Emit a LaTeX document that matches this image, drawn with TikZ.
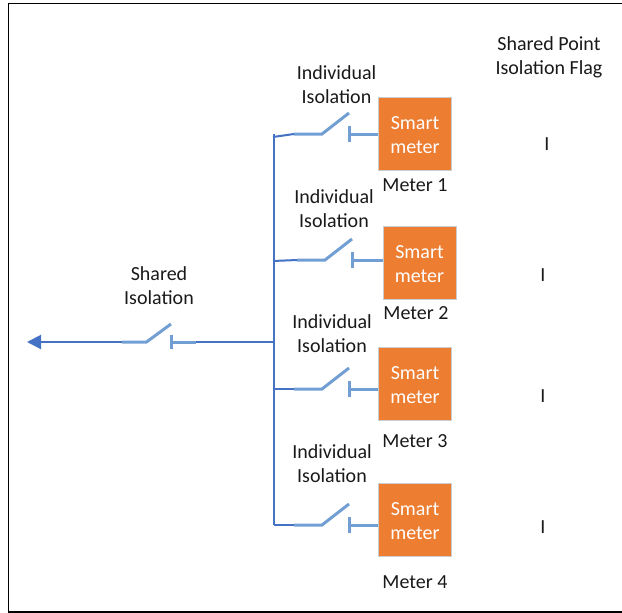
\documentclass[tikz,border=0pt]{standalone}
\usepackage{fontspec}
\setmainfont{Carlito}
\usetikzlibrary{arrows.meta}
\definecolor{busblue}{HTML}{4472C4}
\definecolor{swblue}{HTML}{729FD3}
\definecolor{meterorange}{HTML}{ED7D31}
\definecolor{meteredge}{HTML}{C9CDD2}
\tikzset{
  x=1pt,y=-1pt,
  bus/.style={draw=busblue,line width=2pt},
  swline/.style={draw=swblue,line width=3pt},
  meterbox/.style={draw=meteredge,line width=1pt,fill=meterorange,minimum width=73pt,minimum height=73pt,inner sep=0pt,
    label={[text=white,inner sep=0pt,align=center,font=\fontsize{20}{24}\selectfont,yshift=-1.5pt]center:{Smart\\meter}}},
  lab/.style={inner sep=0pt,align=center,text=black!90,font=\fontsize{20}{24}\selectfont},
}
% #1 name, #2 left x, #3 y, #4 kink dx, #5 tip dx, #6 tip dy, #7 bar half height
\newcommand{\swgate}[7]{%
  \coordinate (#1a) at (#2,#3);
  \coordinate (#1b) at (#2+#4,#3);
  \coordinate (#1c) at (#2+#5,#3-#6);
  \coordinate (#1d) at (#2+#5,#3);
  \draw[swline] (#1a) -- (#1b) -- (#1c);
  \draw[swline] ([yshift=#7pt]#1d) -- ([yshift=-#7pt]#1d);
}
\begin{document}
\begin{tikzpicture}
\useasboundingbox (0,0) rectangle (622,613);
\draw[black,line width=1.1pt] (622,612) -- (8.5,612) -- (8.5,3.5) -- (622,3.5);

\node[meterbox] (m1) at (415,134) {};
\node[meterbox] (m2) at (419.5,263) {};
\node[meterbox] (m3) at (415,384) {};
\node[meterbox] (m4) at (415,520) {};

\node[lab] (i1) at (336.5,84.5) {Individual\\Isolation};
\node[lab] (i2) at (334,209) {Individual\\Isolation};
\node[lab] (i3) at (332,333.5) {Individual\\Isolation};
\node[lab] (i4) at (332,463.5) {Individual\\Isolation};
\node[lab] (sh) at (159,285.5) {Shared\\Isolation};
\node[lab] (fl) at (549,57.5) {Shared Point\\Isolation Flag};

\node[lab] (l1) at (415,185.5) {Meter 1};
\node[lab] (l2) at (416,313.5) {Meter 2};
\node[lab] (l3) at (415,441.5) {Meter 3};
\node[lab] (l4) at (415,582.5) {Meter 4};

\node[lab] (f1) at (547,144.5) {I};
\node[lab] (f2) at (543,275.5) {I};
\node[lab] (f3) at (543,396.5) {I};
\node[lab] (f4) at (543,527.5) {I};

% switches
\swgate{s1}{294}{134}{28}{55}{21}{8}
\swgate{s2}{297}{260}{28}{55}{21}{8}
\swgate{s3}{294}{389}{28}{55}{21}{8}
\swgate{s4}{294}{525}{28}{55}{21}{8}
\swgate{s0}{122}{342}{24.5}{49}{18}{7}

% bus
\coordinate (bt) at (273.5,134);
\coordinate (bb) at (273.5,525);
\coordinate (b0) at (274,342);
\coordinate (tip) at (27,342);
\draw[bus] (bt) -- (bb);
\draw[bus] (273,137) -- (s1a);
\draw[bus] (273,261) -- (s2a);
\draw[bus] (273,389) -- (s3a);
\draw[bus] (bb) -- (s4a);
\draw[bus,-{Triangle[length=14pt,width=14pt]}] (s0a) -- (tip);
\draw[bus] (b0) -- (s0d);

% meter stubs
\draw[swline] (s1d) -- (m1.west |- s1d);
\draw[swline] (s2d) -- (m2.west |- s2d);
\draw[swline] (s3d) -- (m3.west |- s3d);
\draw[swline] (s4d) -- (m4.west |- s4d);
\draw[swline] (s0d) -- ++(25,0);
\end{tikzpicture}
\end{document}
